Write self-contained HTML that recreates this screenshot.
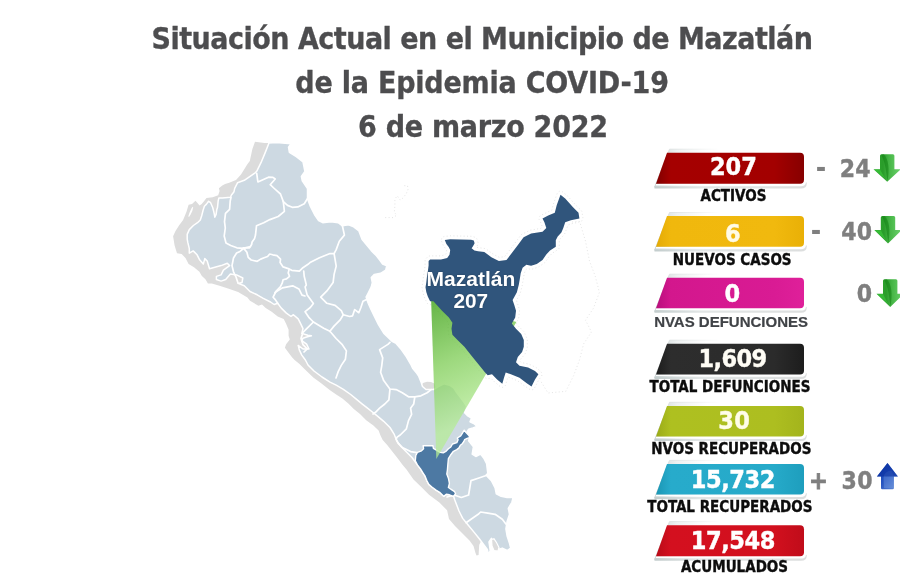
<!DOCTYPE html>
<html><head><meta charset="utf-8"><style>
html,body{margin:0;padding:0;background:#fff;}
body{width:900px;height:581px;position:relative;overflow:hidden;}
</style></head><body>
<svg width="900" height="581" viewBox="0 0 900 581" style="position:absolute;left:0;top:0">
<defs><linearGradient id="tg" gradientUnits="userSpaceOnUse" x1="431" y1="300" x2="482" y2="415"><stop offset="0" stop-color="#2f9a05"/><stop offset="0.5" stop-color="#7acb50"/><stop offset="1" stop-color="#b5ec95"/></linearGradient><linearGradient id="rib" x1="0" y1="0" x2="1" y2="0"><stop offset="0" stop-color="#c9d3d3"/><stop offset="0.15" stop-color="#eef1f1"/><stop offset="0.35" stop-color="#ffffff"/></linearGradient><linearGradient id="ribs" gradientUnits="userSpaceOnUse" x1="654" y1="0" x2="720" y2="0"><stop offset="0" stop-color="#cfd6d6"/><stop offset="1" stop-color="#ffffff"/></linearGradient><linearGradient id="shd" x1="0" y1="0" x2="1" y2="0"><stop offset="0" stop-color="#c3cdcd"/><stop offset="0.3" stop-color="#e2e6e6"/><stop offset="1" stop-color="#dcdede"/></linearGradient><linearGradient id="bg0" x1="0" y1="0" x2="1" y2="0"><stop offset="0" stop-color="#800000"/><stop offset="0.1" stop-color="#a50000"/><stop offset="0.8" stop-color="#a30000"/><stop offset="1" stop-color="#870000"/></linearGradient><linearGradient id="bg1" x1="0" y1="0" x2="1" y2="0"><stop offset="0" stop-color="#e4aa06"/><stop offset="0.1" stop-color="#f0b80d"/><stop offset="0.8" stop-color="#f1b90e"/><stop offset="1" stop-color="#e9b006"/></linearGradient><linearGradient id="bg2" x1="0" y1="0" x2="1" y2="0"><stop offset="0" stop-color="#b80f7c"/><stop offset="0.1" stop-color="#d3178d"/><stop offset="0.8" stop-color="#d91b94"/><stop offset="1" stop-color="#df209a"/></linearGradient><linearGradient id="bg3" x1="0" y1="0" x2="1" y2="0"><stop offset="0" stop-color="#1c1c1c"/><stop offset="0.1" stop-color="#2d2d2d"/><stop offset="0.8" stop-color="#2b2b2b"/><stop offset="1" stop-color="#1d1d1d"/></linearGradient><linearGradient id="bg4" x1="0" y1="0" x2="1" y2="0"><stop offset="0" stop-color="#9aaa18"/><stop offset="0.1" stop-color="#aec020"/><stop offset="0.8" stop-color="#adbe20"/><stop offset="1" stop-color="#a3b41c"/></linearGradient><linearGradient id="bg5" x1="0" y1="0" x2="1" y2="0"><stop offset="0" stop-color="#1b96b4"/><stop offset="0.1" stop-color="#27abcb"/><stop offset="0.8" stop-color="#26aac9"/><stop offset="1" stop-color="#1e9ebd"/></linearGradient><linearGradient id="bg6" x1="0" y1="0" x2="1" y2="0"><stop offset="0" stop-color="#b90b18"/><stop offset="0.1" stop-color="#d4101f"/><stop offset="0.8" stop-color="#d2101e"/><stop offset="1" stop-color="#c00c1a"/></linearGradient><linearGradient id="ga" x1="0" y1="0" x2="1" y2="0"><stop offset="0" stop-color="#2fa82f"/><stop offset="0.35" stop-color="#2a9c2a"/><stop offset="0.55" stop-color="#44b444"/><stop offset="1" stop-color="#6ed46e"/></linearGradient><linearGradient id="gb" x1="0" y1="0" x2="1" y2="1"><stop offset="0" stop-color="#0f3cb0"/><stop offset="0.5" stop-color="#2553c0"/><stop offset="1" stop-color="#6c93da"/></linearGradient></defs>
<polygon points="268.7,142.9 276.5,142.4 291.0,143.8 288.5,147.2 289.4,152.4 296.3,156.7 303.0,161.8 304.9,171.3 301.4,176.5 302.3,180.8 307.5,188.5 307.5,198.8 310.3,206.2 314.5,214.5 318.6,220.7 322.7,222.7 331.0,221.7 338.2,222.7 342.4,225.8 348.6,224.8 353.7,226.9 358.9,231.0 362.0,239.3 366.1,244.4 371.3,250.6 376.4,255.8 379.5,259.9 382.6,264.0 386.8,265.7 385.7,270.2 380.6,273.3 374.4,274.4 371.3,277.5 372.3,282.6 371.3,286.8 368.2,293.0 366.1,297.1 368.2,303.3 370.3,308.0 374.4,316.5 378.6,324.8 383.7,333.1 388.9,338.2 392.0,341.3 396.1,343.4 401.3,349.6 406.4,356.8 410.6,364.0 412.6,368.2 416.8,373.3 418.8,376.4 420.9,381.6 422.5,386.5 426.0,389.5 433.6,389.5 438.4,386.5 443.9,383.8 449.4,385.2 453.6,387.9 456.3,392.0 460.5,397.5 464.6,403.0 466.7,406.5 464.6,412.7 467.3,415.5 471.5,418.2 470.0,421.7 474.2,423.7 477.0,426.5 472.9,427.9 468.7,429.2 467.0,432.0 469.8,437.2 468.6,440.8 473.4,446.9 472.2,454.1 475.8,456.5 480.6,454.1 484.2,458.9 486.6,463.7 487.8,473.4 486.6,475.8 491.4,480.6 495.1,487.8 496.3,493.9 501.1,496.3 507.1,497.5 513.1,497.5 511.9,502.3 508.3,508.3 509.5,514.3 507.1,521.6 505.9,528.8 507.1,536.0 509.5,543.3 510.7,548.1 507.1,550.5 502.3,548.1 498.7,549.3 495.1,544.5 491.4,538.4 489.0,542.0 490.2,550.5 489.0,554.1 488.6,554.5 487.3,549.4 483.4,544.2 480.8,541.5 479.2,545.0 478.6,555.0 476.5,555.5 475.5,553.0 473.5,546.0 469.5,540.5 463.0,534.0 455.0,526.0 449.0,519.0 447.1,510.3 439.4,502.6 429.0,494.8 421.3,487.1 413.5,479.4 406.5,469.5 402.3,464.4 398.2,458.9 392.7,452.0 387.2,445.1 382.7,440.0 380.6,435.8 378.6,430.6 373.4,425.5 366.2,420.3 360.0,414.1 353.8,408.9 348.6,403.8 342.4,398.6 336.2,394.5 330.0,390.3 321.5,383.5 313.3,377.5 305.0,369.5 299.5,364.0 294.6,360.0 292.2,357.5 288.6,352.7 284.9,347.8 286.1,344.2 289.8,339.4 288.6,335.8 288.6,329.8 286.1,323.7 283.7,318.9 277.7,316.5 271.7,311.7 265.7,308.1 262.0,304.5 258.4,305.7 250.0,300.8 247.4,297.5 238.1,291.9 228.8,288.8 219.5,285.7 211.8,283.4 207.9,283.4 205.6,279.5 201.7,275.7 199.4,271.8 194.0,267.2 188.6,264.0 185.5,257.9 181.6,254.0 177.0,253.2 174.6,245.5 173.1,236.2 175.5,231.0 179.0,225.5 183.1,220.0 186.5,211.7 188.6,204.8 192.0,204.1 195.5,200.7 199.6,205.5 201.7,204.1 204.4,200.7 206.5,197.9 212.7,197.2 218.2,195.2 219.6,191.0 218.9,188.3 222.3,185.5 225.1,184.1 229.2,182.8 236.0,180.0 241.0,174.5 247.2,164.4 249.8,161.0 252.4,149.0 255.0,141.7 264.4,142.9" fill="#dcdcdc"/>
<polygon points="193.2,207.2 192.3,211.0 190.6,214.5 189.0,217.0 188.3,216.2 189.6,212.5 191.3,208.8 192.6,206.8" fill="#fff"/>
<polygon points="420.5,386.0 423.0,383.0 427.0,381.8 431.0,382.0 434.5,383.5 436.0,389.8 424.0,390.2 421.0,389.0" fill="#dcdcdc"/>
<polygon points="268.7,142.9 276.5,142.4 291.0,143.8 288.5,147.2 289.4,152.4 296.3,156.7 303.0,161.8 304.9,171.3 301.4,176.5 302.3,180.8 307.5,188.5 307.5,198.8 310.3,206.2 314.5,214.5 318.6,220.7 322.7,222.7 331.0,221.7 338.2,222.7 342.4,225.8 348.6,224.8 353.7,226.9 358.9,231.0 362.0,239.3 366.1,244.4 371.3,250.6 376.4,255.8 379.5,259.9 382.6,264.0 386.8,265.7 385.7,270.2 380.6,273.3 374.4,274.4 371.3,277.5 372.3,282.6 371.3,286.8 368.2,293.0 366.1,297.1 368.2,303.3 370.3,308.0 374.4,316.5 378.6,324.8 383.7,333.1 388.9,338.2 392.0,341.3 396.1,343.4 401.3,349.6 406.4,356.8 410.6,364.0 412.6,368.2 416.8,373.3 418.8,376.4 420.9,381.6 422.5,386.5 426.0,389.5 433.6,389.5 438.4,386.5 443.9,383.8 449.4,385.2 453.6,387.9 456.3,392.0 460.5,397.5 464.6,403.0 466.7,406.5 464.6,412.7 467.3,415.5 471.5,418.2 470.0,421.7 474.2,423.7 477.0,426.5 472.9,427.9 468.7,429.2 467.0,432.0 469.8,437.2 468.6,440.8 473.4,446.9 472.2,454.1 475.8,456.5 480.6,454.1 484.2,458.9 486.6,463.7 487.8,473.4 486.6,475.8 491.4,480.6 495.1,487.8 496.3,493.9 501.1,496.3 507.1,497.5 513.1,497.5 511.9,502.3 508.3,508.3 509.5,514.3 507.1,521.6 505.9,528.8 507.1,536.0 509.5,543.3 510.7,548.1 507.1,550.5 502.3,548.1 498.7,549.3 495.1,544.5 491.4,538.4 489.0,542.0 490.2,550.5 489.0,554.1 488.6,554.5 487.3,549.4 483.4,544.2 479.5,539.0 474.4,532.6 467.9,524.8 462.7,518.4 459.0,511.0 454.8,500.0 453.6,496.3 449.4,494.8 446.3,494.2 443.7,496.3 440.1,492.7 436.0,490.1 431.9,487.0 428.8,484.4 426.7,480.3 425.1,476.2 423.1,473.1 420.5,468.9 417.4,464.8 416.1,463.0 412.0,457.5 406.5,452.0 401.0,446.5 396.8,441.0 394.1,434.1 390.0,427.5 383.7,421.3 377.5,416.2 372.4,412.0 367.2,407.9 362.0,403.8 356.9,399.6 350.7,394.5 343.4,389.3 336.2,385.2 330.0,382.1 322.0,377.0 314.0,371.0 308.0,365.0 305.4,360.0 301.8,355.1 299.4,350.2 298.2,345.4 303.0,349.0 309.0,349.0 306.6,344.2 301.8,340.6 303.0,338.2 306.6,337.0 311.4,335.8 307.8,335.2 301.8,333.4 303.0,328.6 300.6,323.7 298.2,318.9 293.4,314.7 291.0,316.5 286.1,312.9 281.3,308.1 277.7,303.3 274.1,304.5 270.5,302.0 263.3,298.4 257.2,294.8 250.0,291.5 244.3,285.7 238.1,283.4 242.0,282.6 242.8,278.0 236.6,274.9 230.4,274.1 225.7,279.5 221.1,281.1 216.4,279.5 216.4,276.4 221.1,274.9 223.4,270.2 229.6,265.6 227.3,263.3 221.1,265.6 214.9,267.2 209.5,268.7 207.2,261.0 204.8,258.6 203.3,264.1 199.4,259.4 197.1,254.8 193.2,250.9 189.3,253.2 189.3,248.6 187.8,242.4 187.2,239.2 187.2,234.4 189.3,229.6 193.4,225.5 197.5,222.7 200.3,220.0 201.7,215.8 203.1,210.3 204.4,206.2 206.5,204.1 208.6,201.3 210.6,202.7 212.7,207.5 214.1,213.1 214.8,217.2 216.1,214.4 216.8,209.6 217.5,207.5 218.2,200.7 218.9,197.9 222.3,197.9 230.6,197.2 231.3,195.2 234.0,191.7 234.7,188.3 237.5,182.8 244.3,180.3 255.5,172.6 256.7,171.3 261.0,162.7 265.3,152.4 268.7,143.8" fill="#cdd9e2" stroke="#fff" stroke-width="1.5" stroke-linejoin="round"/>
<polygon points="491.5,539.5 494.0,538.8 496.5,542.5 499.0,547.5 498.0,551.0 494.0,550.5 492.0,546.0" fill="#dcdcdc" stroke="#fff" stroke-width="1.2"/>
<polyline points="256.7,173.4 257.9,182.0 264.0,179.2 268.5,177.2 273.0,177.4 275.2,179.0 270.2,184.7 274.3,188.5 280.5,194.0 283.3,201.6 287.5,205.4 292.3,207.3 297.8,206.9 304.3,203.7 307.2,199.0" fill="none" stroke="#fff" stroke-width="1.7" stroke-linejoin="round" stroke-linecap="round"/>
<polyline points="231.0,197.5 230.2,201.0 229.6,209.3 225.5,213.4 224.5,221.7 225.3,228.0 224.2,236.0 226.0,243.0 230.7,245.5 236.9,247.8 243.1,248.3 250.4,246.5" fill="none" stroke="#fff" stroke-width="1.7" stroke-linejoin="round" stroke-linecap="round"/>
<polyline points="283.3,201.6 284.4,211.3 278.2,216.5 269.9,219.6 263.7,222.7 256.5,225.8 255.5,235.0 254.6,238.4 252.1,241.9 251.6,244.5 249.5,247.9 243.4,247.9" fill="none" stroke="#fff" stroke-width="1.7" stroke-linejoin="round" stroke-linecap="round"/>
<polyline points="243.4,247.9 246.9,252.2 248.2,257.4 251.2,260.0 257.2,261.3 260.7,259.1 264.1,257.8 267.6,256.5 269.7,254.0 272.7,254.8 277.0,255.7 280.5,259.1 280.1,262.6 283.1,266.9 288.2,268.6 291.7,270.3 299.4,271.2 302.9,267.7 308.0,264.3 310.0,262.6 319.5,257.8 330.0,253.5 334.1,253.7 336.2,249.6 339.3,241.3 344.4,235.1 342.4,225.8" fill="none" stroke="#fff" stroke-width="1.7" stroke-linejoin="round" stroke-linecap="round"/>
<polyline points="243.4,248.5 240.0,251.4 236.6,253.0 233.5,258.0 232.0,265.6 233.5,271.8 236.0,277.0 238.0,283.0" fill="none" stroke="#fff" stroke-width="1.7" stroke-linejoin="round" stroke-linecap="round"/>
<polyline points="289.1,269.5 288.2,272.9 289.5,276.3 286.5,278.9 283.1,279.8 282.2,283.2 280.3,286.9 276.2,291.0 273.1,297.2 275.3,299.6 277.7,303.3" fill="none" stroke="#fff" stroke-width="1.7" stroke-linejoin="round" stroke-linecap="round"/>
<polyline points="275.0,292.5 282.4,287.9 292.7,285.8 298.9,288.9 302.0,295.1 305.0,296.0" fill="none" stroke="#fff" stroke-width="1.7" stroke-linejoin="round" stroke-linecap="round"/>
<polyline points="303.7,271.0 304.2,276.3 305.5,281.5 306.3,285.0 305.1,286.9 307.2,295.1 310.3,299.3 313.4,303.4 310.3,307.5 305.1,311.7 309.3,317.9 313.4,322.0 317.5,324.5 323.7,328.2 329.9,331.3" fill="none" stroke="#fff" stroke-width="1.7" stroke-linejoin="round" stroke-linecap="round"/>
<polyline points="334.1,253.7 336.2,266.1 334.1,274.4 333.1,282.6 326.9,290.9 320.7,297.1 326.9,303.3 335.1,305.4 341.3,310.6 343.3,314.8 340.2,319.9 334.0,326.1 329.9,331.3" fill="none" stroke="#fff" stroke-width="1.7" stroke-linejoin="round" stroke-linecap="round"/>
<polyline points="343.3,314.8 349.6,316.5 352.6,315.8 354.7,309.6 358.8,312.7 360.9,307.5 363.0,301.3 367.1,299.3 369.5,301.3" fill="none" stroke="#fff" stroke-width="1.7" stroke-linejoin="round" stroke-linecap="round"/>
<polyline points="329.9,331.3 336.1,338.5 342.3,344.7 346.4,350.9 345.4,359.2 341.3,365.4 338.2,371.6 336.0,378.0" fill="none" stroke="#fff" stroke-width="1.7" stroke-linejoin="round" stroke-linecap="round"/>
<polyline points="313.4,322.0 307.2,328.2 303.0,332.3 301.0,338.5 303.0,344.7 307.2,348.8 304.0,352.0" fill="none" stroke="#fff" stroke-width="1.7" stroke-linejoin="round" stroke-linecap="round"/>
<polyline points="390.0,342.4 387.9,344.4 379.6,349.6 382.7,357.9 381.7,366.1 380.6,372.3 383.7,380.6 389.9,389.0 396.1,389.6 402.3,392.7 408.5,396.8 414.7,396.8 420.9,395.8 427.1,392.7 431.2,389.6" fill="none" stroke="#fff" stroke-width="1.7" stroke-linejoin="round" stroke-linecap="round"/>
<polyline points="389.9,389.6 388.9,399.9 384.8,404.0 379.6,408.2 375.5,412.3 373.0,414.0" fill="none" stroke="#fff" stroke-width="1.7" stroke-linejoin="round" stroke-linecap="round"/>
<polyline points="414.7,397.5 413.7,404.0 410.6,408.2 411.6,414.4 408.5,420.6 406.4,428.8 400.2,435.0 397.1,437.1 396.1,439.2 398.2,443.3 402.3,447.4 410.6,451.6 416.8,452.6" fill="none" stroke="#fff" stroke-width="1.7" stroke-linejoin="round" stroke-linecap="round"/>
<polyline points="447.0,497.0 454.1,495.0 461.3,497.5 468.6,495.0 469.8,487.8 471.0,480.6 478.2,478.2 485.4,475.8 487.5,474.0" fill="none" stroke="#fff" stroke-width="1.7" stroke-linejoin="round" stroke-linecap="round"/>
<polyline points="466.1,522.8 471.0,519.2 478.2,514.3 480.6,512.0 487.8,513.1 495.1,514.3 502.3,519.2 505.9,524.0" fill="none" stroke="#fff" stroke-width="1.7" stroke-linejoin="round" stroke-linecap="round"/>
<polygon points="423.1,445.7 432.9,445.7 433.4,448.3 436.0,449.8 440.1,452.4 443.2,452.9 445.8,451.4 448.4,448.8 450.8,447.0 452.5,444.0 456.8,442.7 458.1,439.7 457.3,438.0 460.7,435.8 462.9,432.4 464.2,430.2 466.3,432.8 468.9,435.4 469.8,437.5 467.2,438.4 464.6,439.7 463.7,441.8 462.0,444.0 460.3,445.3 459.0,447.9 456.8,449.6 453.4,451.3 450.8,454.7 448.4,458.6 447.9,463.8 447.4,470.0 446.8,474.1 448.4,478.2 449.4,483.4 448.4,487.5 451.5,489.6 454.6,491.7 455.6,493.7 453.6,496.3 449.4,494.8 446.3,494.2 443.7,496.3 440.1,492.7 436.0,490.1 431.9,487.0 428.8,484.4 426.7,480.3 425.1,476.2 423.1,473.1 420.5,468.9 417.4,464.8 415.3,460.7 415.8,455.5 417.4,452.4 421.5,450.8 423.6,448.8" fill="#4d79a3" stroke="#fff" stroke-width="1.4" stroke-linejoin="round"/>
<polygon points="441.6,241.3 443.2,245.2 443.3,245.5 443.4,245.7 443.6,246.0 445.7,248.8 446.6,250.7 446.2,253.4 445.1,254.8 440.6,255.9 430.1,255.9 429.7,255.9 429.4,256.0 429.0,256.1 428.7,256.2 428.4,256.3 428.1,256.5 427.8,256.8 427.5,257.0 426.0,258.6 425.8,258.9 425.6,259.1 425.5,259.4 425.3,259.7 425.2,260.0 425.2,260.3 425.1,260.7 425.1,261.0 425.1,265.4 424.3,271.3 423.6,275.8 423.5,276.0 422.8,282.1 422.0,286.7 422.0,287.1 422.0,287.5 422.1,287.9 422.9,292.5 423.0,293.0 424.5,297.7 424.6,297.9 424.7,298.2 427.0,302.8 427.1,303.1 427.3,303.4 427.6,303.6 427.8,303.9 428.1,304.1 428.4,304.3 428.7,304.4 429.1,304.5 429.4,304.6 429.7,304.7 430.1,304.7 431.8,304.7 439.4,313.0 439.5,313.2 446.2,319.7 448.7,323.5 448.0,328.2 448.0,328.5 448.0,328.9 448.0,329.2 448.9,335.2 449.0,335.6 449.1,335.9 449.3,336.3 449.4,336.6 449.7,336.9 449.9,337.2 455.0,342.4 455.0,342.4 461.8,349.1 468.6,357.6 475.5,366.2 482.4,374.8 482.6,375.1 485.2,377.7 485.5,377.9 485.8,378.1 486.1,378.3 486.4,378.4 486.7,378.6 487.0,378.6 487.4,378.7 487.7,378.7 488.1,378.7 488.4,378.6 490.8,378.1 494.6,382.0 494.9,382.2 500.1,386.5 500.3,386.7 500.6,386.9 501.0,387.0 501.3,387.2 501.6,387.2 502.0,387.3 502.3,387.3 502.7,387.3 503.0,387.2 503.3,387.1 503.7,387.0 504.0,386.9 504.3,386.7 504.6,386.5 504.8,386.2 505.0,386.0 505.2,385.7 505.4,385.4 505.6,385.1 505.7,384.8 507.3,378.8 507.9,377.0 509.7,377.6 517.8,380.9 524.3,385.8 524.5,385.9 529.6,389.3 529.9,389.5 530.2,389.6 530.5,389.8 530.8,389.8 531.2,389.9 531.5,389.9 531.9,389.9 532.2,389.8 532.6,389.7 532.9,389.6 533.2,389.5 533.5,389.3 533.8,389.1 534.0,388.8 534.2,388.6 534.4,388.3 534.6,388.0 538.0,381.3 541.3,376.2 541.5,375.9 541.6,375.6 541.8,375.3 541.8,375.0 541.9,374.6 541.9,374.3 541.9,373.9 541.8,373.6 541.7,373.3 541.6,373.0 541.5,372.6 541.3,372.4 541.1,372.1 540.9,371.8 537.5,368.4 537.2,368.2 536.9,367.9 536.5,367.8 529.6,364.4 529.4,364.2 529.1,364.1 528.8,364.1 521.2,362.5 520.0,361.3 520.9,358.9 524.8,354.3 525.0,354.0 525.2,353.7 525.3,353.4 525.4,353.1 527.1,347.9 527.2,347.5 527.3,347.2 527.3,346.8 527.3,339.9 527.3,339.5 527.2,339.2 527.1,338.8 527.0,338.5 524.4,332.5 524.3,332.2 524.1,331.9 523.9,331.7 523.7,331.4 518.6,326.3 516.0,323.2 518.3,319.2 518.4,318.9 518.5,318.6 518.6,318.2 518.7,317.9 519.5,311.1 519.5,310.8 519.5,310.4 519.4,310.0 519.4,309.7 517.7,304.0 517.6,303.9 516.4,300.4 517.3,298.7 517.4,298.7 520.0,294.0 520.1,293.7 520.2,293.4 520.3,293.1 522.2,285.5 522.2,285.3 523.2,279.6 523.3,279.5 524.1,274.1 525.6,269.8 527.2,268.6 530.4,269.2 530.7,269.3 531.1,269.3 531.5,269.3 531.8,269.2 532.2,269.1 537.9,267.2 538.2,267.1 538.5,267.0 538.8,266.8 544.5,262.9 544.7,262.7 545.0,262.5 545.2,262.2 545.4,262.0 549.0,256.6 552.2,253.3 557.7,249.7 558.0,249.5 558.3,249.3 558.5,249.0 558.7,248.8 558.9,248.5 559.0,248.2 559.1,247.8 559.2,247.5 559.3,247.1 559.3,246.8 559.3,241.0 560.6,238.5 563.9,235.0 564.1,234.8 564.3,234.5 564.5,234.2 564.6,233.9 566.5,229.2 566.6,229.0 568.0,225.0 571.8,223.7 580.2,221.8 580.5,221.7 580.8,221.6 581.1,221.4 581.4,221.2 581.7,221.0 582.0,220.8 582.2,220.5 582.4,220.2 582.6,219.9 582.7,219.6 582.8,219.3 582.9,218.9 582.9,218.6 582.9,218.2 582.9,217.9 582.0,212.2 581.9,211.8 581.8,211.4 581.6,211.1 581.4,210.8 581.2,210.5 581.0,210.2 575.3,204.6 567.8,196.2 567.6,196.0 567.4,195.8 562.7,192.0 562.4,191.8 562.1,191.6 561.8,191.4 561.5,191.3 561.1,191.3 560.8,191.2 560.4,191.2 560.1,191.2 559.7,191.3 559.4,191.4 559.1,191.5 558.8,191.7 558.5,191.9 558.2,192.1 557.9,192.3 557.7,192.6 557.5,192.9 557.3,193.2 557.2,193.5 553.4,204.0 553.3,204.3 551.8,210.2 546.8,212.4 546.7,212.5 541.0,215.3 540.7,215.4 540.4,215.6 540.1,215.8 539.9,216.1 539.7,216.4 539.5,216.7 539.3,217.0 539.2,217.3 539.1,217.6 539.0,218.0 539.0,218.3 539.0,218.6 539.0,219.0 539.1,219.3 539.2,219.6 539.4,220.0 541.2,223.5 542.3,227.0 540.8,228.4 530.5,230.1 530.2,230.2 529.9,230.3 529.6,230.5 522.1,234.2 521.8,234.3 521.5,234.5 521.2,234.7 521.0,235.0 520.8,235.2 515.1,242.9 509.4,250.4 504.6,256.7 499.5,257.4 493.2,254.2 486.4,249.2 486.1,249.0 485.8,248.8 485.4,248.7 485.1,248.6 484.7,248.5 478.7,247.7 476.4,247.3 477.7,244.8 477.8,244.5 478.0,244.2 478.0,243.9 478.1,243.5 478.1,243.2 478.1,242.8 478.0,242.5 477.9,242.2 477.1,239.6 477.0,239.2 476.9,238.9 476.7,238.6 476.5,238.4 476.3,238.1 476.0,237.9 475.7,237.7 475.4,237.5 475.1,237.4 474.8,237.2 472.1,236.4 471.8,236.4 471.5,236.3 471.2,236.3 461.2,236.1 450.3,235.8 450.0,235.8 449.8,235.8 444.4,236.5 444.0,236.6 443.7,236.7 443.4,236.8 443.1,237.0 442.8,237.1 442.5,237.3 442.3,237.6 442.1,237.8 441.9,238.1 441.7,238.4 441.6,238.7 441.4,239.0 441.4,239.3 441.3,239.7 441.3,240.0 441.3,240.4 441.4,240.7 441.4,241.0 441.6,241.3" fill="none" stroke="#d0d0d0" stroke-width="0.9" stroke-dasharray="1 2.4" opacity="0.65"/>
<polyline points="572.0,222.0 579.6,221.4 585.5,241.1 589.5,260.9 595.4,276.7 599.4,292.5 593.4,308.3 585.5,320.2 591.5,332.0 583.6,343.9 579.6,359.7 573.7,375.5 565.8,391.3 548.0,393.0 540.0,380.0" fill="none" stroke="#d0d0d0" stroke-width="0.9" stroke-dasharray="1 2.4" opacity="0.65"/>
<polyline points="385.2,217.6 393.1,217.6 396.7,215.2 394.3,212.2 394.9,206.1 394.9,198.9 397.3,195.9 400.3,200.1 403.3,197.7 406.3,193.5 408.1,189.3 407.5,185.7 403.3,185.7" fill="none" stroke="#d0d0d0" stroke-width="0.9" stroke-dasharray="1 2.4" opacity="0.65"/>
<polygon points="431.0,296.0 516.4,322.0 436.3,459.0" fill="url(#tg)" opacity="0.74"/>
<polygon points="444.8,240.0 450.2,239.3 461.1,239.6 471.1,239.8 473.8,240.6 474.6,243.2 473.0,246.2 471.6,248.2 474.4,250.4 478.1,251.2 484.3,252.0 491.4,257.2 498.9,261.0 506.5,260.0 512.2,252.5 517.9,245.0 523.6,237.3 531.1,233.6 542.5,231.7 546.3,227.9 544.4,222.2 542.5,218.4 548.2,215.6 554.8,212.7 556.7,205.2 560.5,194.7 565.2,198.5 572.8,207.0 578.5,212.7 579.4,218.4 570.9,220.3 565.2,222.2 563.3,227.9 561.4,232.6 557.7,236.4 555.8,240.2 555.8,246.8 550.0,250.6 546.3,254.4 542.5,260.0 536.8,263.9 531.1,265.8 526.4,264.8 522.6,267.7 520.7,273.3 519.8,279.0 518.8,284.7 516.9,292.3 514.3,297.0 512.6,300.0 514.3,305.0 516.0,310.7 515.2,317.5 511.8,323.6 516.0,328.7 521.2,333.9 523.8,339.9 523.8,346.8 522.1,352.0 517.8,357.1 516.0,362.3 519.5,365.7 528.1,367.5 535.0,370.9 538.4,374.3 535.0,379.5 531.5,386.4 526.4,383.0 519.5,377.8 510.9,374.3 505.7,372.6 504.0,377.8 502.3,383.8 497.1,379.5 492.0,374.3 487.7,375.2 485.1,372.6 478.2,364.0 471.3,355.4 464.4,346.8 457.5,339.9 452.4,334.7 451.5,328.7 452.4,322.7 448.9,317.5 442.0,310.7 433.4,301.2 430.1,301.2 427.8,296.6 426.3,291.9 425.5,287.3 426.3,282.6 427.0,276.4 427.8,271.8 428.6,265.6 428.6,261.0 430.1,259.4 441.0,259.4 447.2,257.9 449.5,254.8 450.2,250.1 448.7,247.0 446.4,243.9" fill="#30557c"/>
<path d="M669.5,149.2 L804,149.2 L804,186.8 L654.5,186.8 Z" fill="url(#rib)"/><path d="M720,149.2 L669.5,149.2 L654.5,187.4" fill="none" stroke="url(#ribs)" stroke-width="0.9"/><path d="M654.5,186.2 L801,186.2 Q805.5,186.2 806,182.3 L806.8,182.8 Q807,188.4 801,188.4 L654.5,188.4 Z" fill="url(#shd)"/><path d="M656,184.7 L803,184.7" stroke="#fff" stroke-width="1.6"/><path d="M667,152.8 L800,152.8 Q804,152.8 804,156.8 L804,179.8 Q804,183.8 800,183.8 L656,183.8 Z" fill="url(#bg0)"/><path d="M669.5,212.5 L804,212.5 L804,249.8 L654.5,249.8 Z" fill="url(#rib)"/><path d="M720,212.5 L669.5,212.5 L654.5,250.4" fill="none" stroke="url(#ribs)" stroke-width="0.9"/><path d="M654.5,249.2 L801,249.2 Q805.5,249.2 806,245.3 L806.8,245.8 Q807,251.4 801,251.4 L654.5,251.4 Z" fill="url(#shd)"/><path d="M656,247.7 L803,247.7" stroke="#fff" stroke-width="1.6"/><path d="M667,216.1 L800,216.1 Q804,216.1 804,220.1 L804,242.8 Q804,246.8 800,246.8 L656,246.8 Z" fill="url(#bg1)"/><path d="M669.5,274.2 L804,274.2 L804,311.2 L654.5,311.2 Z" fill="url(#rib)"/><path d="M720,274.2 L669.5,274.2 L654.5,311.8" fill="none" stroke="url(#ribs)" stroke-width="0.9"/><path d="M654.5,310.6 L801,310.6 Q805.5,310.6 806,306.7 L806.8,307.2 Q807,312.8 801,312.8 L654.5,312.8 Z" fill="url(#shd)"/><path d="M656,309.1 L803,309.1" stroke="#fff" stroke-width="1.6"/><path d="M667,277.8 L800,277.8 Q804,277.8 804,281.8 L804,304.2 Q804,308.2 800,308.2 L656,308.2 Z" fill="url(#bg2)"/><path d="M669.5,340.2 L804,340.2 L804,377.4 L654.5,377.4 Z" fill="url(#rib)"/><path d="M720,340.2 L669.5,340.2 L654.5,378.0" fill="none" stroke="url(#ribs)" stroke-width="0.9"/><path d="M654.5,376.8 L801,376.8 Q805.5,376.8 806,372.9 L806.8,373.4 Q807,379.0 801,379.0 L654.5,379.0 Z" fill="url(#shd)"/><path d="M656,375.3 L803,375.3" stroke="#fff" stroke-width="1.6"/><path d="M667,343.8 L800,343.8 Q804,343.8 804,347.8 L804,370.4 Q804,374.4 800,374.4 L656,374.4 Z" fill="url(#bg3)"/><path d="M669.5,402.3 L804,402.3 L804,439.5 L654.5,439.5 Z" fill="url(#rib)"/><path d="M720,402.3 L669.5,402.3 L654.5,440.1" fill="none" stroke="url(#ribs)" stroke-width="0.9"/><path d="M654.5,438.9 L801,438.9 Q805.5,438.9 806,435.0 L806.8,435.5 Q807,441.1 801,441.1 L654.5,441.1 Z" fill="url(#shd)"/><path d="M656,437.4 L803,437.4" stroke="#fff" stroke-width="1.6"/><path d="M667,405.9 L800,405.9 Q804,405.9 804,409.9 L804,432.5 Q804,436.5 800,436.5 L656,436.5 Z" fill="url(#bg4)"/><path d="M669.5,460.4 L804,460.4 L804,497.6 L654.5,497.6 Z" fill="url(#rib)"/><path d="M720,460.4 L669.5,460.4 L654.5,498.2" fill="none" stroke="url(#ribs)" stroke-width="0.9"/><path d="M654.5,497.0 L801,497.0 Q805.5,497.0 806,493.1 L806.8,493.6 Q807,499.2 801,499.2 L654.5,499.2 Z" fill="url(#shd)"/><path d="M656,495.5 L803,495.5" stroke="#fff" stroke-width="1.6"/><path d="M667,464.0 L800,464.0 Q804,464.0 804,468.0 L804,490.6 Q804,494.6 800,494.6 L656,494.6 Z" fill="url(#bg5)"/><path d="M669.5,521.6 L804,521.6 L804,559.2 L654.5,559.2 Z" fill="url(#rib)"/><path d="M720,521.6 L669.5,521.6 L654.5,559.8" fill="none" stroke="url(#ribs)" stroke-width="0.9"/><path d="M654.5,558.6 L801,558.6 Q805.5,558.6 806,554.7 L806.8,555.2 Q807,560.8 801,560.8 L654.5,560.8 Z" fill="url(#shd)"/><path d="M656,557.1 L803,557.1" stroke="#fff" stroke-width="1.6"/><path d="M667,525.2 L800,525.2 Q804,525.2 804,529.2 L804,552.2 Q804,556.2 800,556.2 L656,556.2 Z" fill="url(#bg6)"/>
<path d="M880.0,155.8 Q880.0,154.3 881.5,154.3 L892.9000000000001,154.3 Q894.4000000000001,154.3 894.4000000000001,155.8 L894.4000000000001,169.3 L900.9000000000001,169.3 L887.2,181.8 L873.5,169.3 L880.0,169.3 Z" fill="url(#ga)"/><path d="M883.7,154.3 C888.7,159.3 889.7,169.3 887.5,181.3 C886.0,171.3 885.7,163.3 881.2,154.8 Z" fill="#138214" opacity="0.55"/><path d="M874.0,169.60000000000002 L880.0,169.60000000000002 L885.2,178.8 Z" fill="#3fd03f" opacity="0.55"/><path d="M880.8,217.5 Q880.8,216 882.3,216 L893.7,216 Q895.2,216 895.2,217.5 L895.2,230 L901.7,230 L888,243.5 L874.3,230 L880.8,230 Z" fill="url(#ga)"/><path d="M884.5,216 C889.5,221 890.5,230 888.3,243.0 C886.8,232 886.5,225 882,216.5 Z" fill="#138214" opacity="0.55"/><path d="M874.8,230.3 L880.8,230.3 L886,240.5 Z" fill="#3fd03f" opacity="0.55"/><path d="M883.0,280.8 Q883.0,279.3 884.5,279.3 L895.9000000000001,279.3 Q897.4000000000001,279.3 897.4000000000001,280.8 L897.4000000000001,293.8 L903.9000000000001,293.8 L890.2,307 L876.5,293.8 L883.0,293.8 Z" fill="url(#ga)"/><path d="M886.7,279.3 C891.7,284.3 892.7,293.8 890.5,306.5 C889.0,295.8 888.7,288.3 884.2,279.8 Z" fill="#138214" opacity="0.55"/><path d="M877.0,294.1 L883.0,294.1 L888.2,304 Z" fill="#3fd03f" opacity="0.55"/><path d="M887.5,463 L897.9,476.6 L893.9,476.6 L893.9,488 Q893.9,489.3 892.6,489.3 L882.3,489.3 Q881,489.3 881,488 L881,476.6 L876.9,476.6 Z" fill="url(#gb)"/><path d="M883.5,478 Q884,471 891.5,470.5 L893.9,476.6 L893.9,488 L884,488 Z" fill="#7ea3e3" opacity="0.35"/><path d="M887.5,463 L897.9,476.6 L876.9,476.6 Z" fill="#0a2f9c" opacity="0.6"/>
</svg>
<div style="position:absolute;left:82.00px;top:23.90px;width:800px;text-align:center;font-family:'DejaVu Sans Condensed','DejaVu Sans',sans-serif;font-weight:bold;font-size:30px;line-height:30px;letter-spacing:-0.5px;color:#4d4d4f;white-space:nowrap;-webkit-text-stroke:0.3px #4d4d4f;">Situación Actual en el Municipio de Mazatlán</div><div style="position:absolute;left:82.00px;top:67.70px;width:800px;text-align:center;font-family:'DejaVu Sans Condensed','DejaVu Sans',sans-serif;font-weight:bold;font-size:30px;line-height:30px;letter-spacing:-0.2px;color:#4d4d4f;white-space:nowrap;-webkit-text-stroke:0.3px #4d4d4f;">de la Epidemia COVID-19</div><div style="position:absolute;left:82.90px;top:112.10px;width:800px;text-align:center;font-family:'DejaVu Sans Condensed','DejaVu Sans',sans-serif;font-weight:bold;font-size:30px;line-height:30px;letter-spacing:-0.27px;color:#4d4d4f;white-space:nowrap;-webkit-text-stroke:0.3px #4d4d4f;">6 de marzo 2022</div><div style="position:absolute;left:658.40px;top:154.10px;width:150px;text-align:center;font-family:'DejaVu Sans Condensed','DejaVu Sans',sans-serif;font-weight:bold;font-size:25px;line-height:25px;letter-spacing:0px;color:#ffffff;white-space:nowrap;-webkit-text-stroke:0.4px #ffffff;">207</div><div style="position:absolute;left:623.45px;top:189.20px;width:220px;text-align:center;font-family:'DejaVu Sans Condensed','DejaVu Sans',sans-serif;font-weight:bold;font-size:15px;line-height:15px;letter-spacing:0px;color:#0d0d0d;white-space:nowrap;-webkit-text-stroke:0.35px #0d0d0d;">ACTIVOS</div><div style="position:absolute;left:657.80px;top:221.10px;width:150px;text-align:center;font-family:'DejaVu Sans Condensed','DejaVu Sans',sans-serif;font-weight:bold;font-size:25px;line-height:25px;letter-spacing:0px;color:#fffbe6;white-space:nowrap;-webkit-text-stroke:0.4px #fffbe6;">6</div><div style="position:absolute;left:622.20px;top:252.60px;width:220px;text-align:center;font-family:'DejaVu Sans Condensed','DejaVu Sans',sans-serif;font-weight:bold;font-size:15px;line-height:15px;letter-spacing:0px;color:#0d0d0d;white-space:nowrap;-webkit-text-stroke:0.35px #0d0d0d;">NUEVOS CASOS</div><div style="position:absolute;left:657.40px;top:281.10px;width:150px;text-align:center;font-family:'DejaVu Sans Condensed','DejaVu Sans',sans-serif;font-weight:bold;font-size:25px;line-height:25px;letter-spacing:0px;color:#ffffff;white-space:nowrap;-webkit-text-stroke:0.4px #ffffff;">0</div><div style="position:absolute;left:621.10px;top:313.60px;width:220px;text-align:center;font-family:'Liberation Sans',Arial,sans-serif;font-weight:bold;font-size:15px;line-height:15px;letter-spacing:0px;color:#404347;white-space:nowrap;-webkit-text-stroke:0.2px #404347;">NVAS DEFUNCIONES</div><div style="position:absolute;left:657.50px;top:345.70px;width:150px;text-align:center;font-family:'DejaVu Sans Condensed','DejaVu Sans',sans-serif;font-weight:bold;font-size:25px;line-height:25px;letter-spacing:-0.6px;color:#fffdf5;white-space:nowrap;-webkit-text-stroke:0.4px #fffdf5;">1,609</div><div style="position:absolute;left:620.00px;top:379.80px;width:220px;text-align:center;font-family:'DejaVu Sans Condensed','DejaVu Sans',sans-serif;font-weight:bold;font-size:15px;line-height:15px;letter-spacing:0px;color:#0d0d0d;white-space:nowrap;-webkit-text-stroke:0.35px #0d0d0d;">TOTAL DEFUNCIONES</div><div style="position:absolute;left:659.30px;top:407.70px;width:150px;text-align:center;font-family:'DejaVu Sans Condensed','DejaVu Sans',sans-serif;font-weight:bold;font-size:25px;line-height:25px;letter-spacing:0.5px;color:#fffde8;white-space:nowrap;-webkit-text-stroke:0.4px #fffde8;">30</div><div style="position:absolute;left:621.30px;top:441.80px;width:220px;text-align:center;font-family:'DejaVu Sans Condensed','DejaVu Sans',sans-serif;font-weight:bold;font-size:15px;line-height:15px;letter-spacing:0px;color:#0d0d0d;white-space:nowrap;-webkit-text-stroke:0.35px #0d0d0d;">NVOS RECUPERADOS</div><div style="position:absolute;left:657.90px;top:466.60px;width:150px;text-align:center;font-family:'DejaVu Sans Condensed','DejaVu Sans',sans-serif;font-weight:bold;font-size:25px;line-height:25px;letter-spacing:-0.4px;color:#ffffff;white-space:nowrap;-webkit-text-stroke:0.4px #ffffff;">15,732</div><div style="position:absolute;left:619.85px;top:499.90px;width:220px;text-align:center;font-family:'DejaVu Sans Condensed','DejaVu Sans',sans-serif;font-weight:bold;font-size:15px;line-height:15px;letter-spacing:0px;color:#0d0d0d;white-space:nowrap;-webkit-text-stroke:0.35px #0d0d0d;">TOTAL RECUPERADOS</div><div style="position:absolute;left:657.90px;top:528.40px;width:150px;text-align:center;font-family:'DejaVu Sans Condensed','DejaVu Sans',sans-serif;font-weight:bold;font-size:25px;line-height:25px;letter-spacing:-0.4px;color:#ffffff;white-space:nowrap;-webkit-text-stroke:0.4px #ffffff;">17,548</div><div style="position:absolute;left:624.50px;top:559.90px;width:220px;text-align:center;font-family:'DejaVu Sans Condensed','DejaVu Sans',sans-serif;font-weight:bold;font-size:15px;line-height:15px;letter-spacing:0px;color:#0d0d0d;white-space:nowrap;-webkit-text-stroke:0.35px #0d0d0d;">ACUMULADOS</div><div style="position:absolute;left:806.00px;top:153.80px;width:30px;text-align:center;font-family:'DejaVu Sans Condensed','DejaVu Sans',sans-serif;font-weight:bold;font-size:28px;line-height:28px;letter-spacing:0px;color:#7f7f7f;white-space:nowrap;">-</div><div style="position:absolute;left:801.00px;top:217.00px;width:30px;text-align:center;font-family:'DejaVu Sans Condensed','DejaVu Sans',sans-serif;font-weight:bold;font-size:28px;line-height:28px;letter-spacing:0px;color:#7f7f7f;white-space:nowrap;">-</div><div style="position:absolute;left:803.50px;top:468.00px;width:30px;text-align:center;font-family:'DejaVu Sans Condensed','DejaVu Sans',sans-serif;font-weight:bold;font-size:25px;line-height:25px;letter-spacing:0px;color:#7f7f7f;white-space:nowrap;-webkit-text-stroke:0.8px #7f7f7f;">+</div><div style="position:absolute;right:29.00px;top:156.70px;font-family:'DejaVu Sans Condensed','DejaVu Sans',sans-serif;font-weight:bold;font-size:24.5px;line-height:24.5px;letter-spacing:0.3px;color:#7f7f7f;white-space:nowrap;-webkit-text-stroke:0.4px #7f7f7f">24</div><div style="position:absolute;right:27.50px;top:220.40px;font-family:'DejaVu Sans Condensed','DejaVu Sans',sans-serif;font-weight:bold;font-size:24.5px;line-height:24.5px;letter-spacing:0.3px;color:#7f7f7f;white-space:nowrap;-webkit-text-stroke:0.4px #7f7f7f">40</div><div style="position:absolute;right:27.50px;top:281.70px;font-family:'DejaVu Sans Condensed','DejaVu Sans',sans-serif;font-weight:bold;font-size:24.5px;line-height:24.5px;letter-spacing:0.3px;color:#7f7f7f;white-space:nowrap;-webkit-text-stroke:0.4px #7f7f7f">0</div><div style="position:absolute;right:27.20px;top:469.40px;font-family:'DejaVu Sans Condensed','DejaVu Sans',sans-serif;font-weight:bold;font-size:24.5px;line-height:24.5px;letter-spacing:0.3px;color:#7f7f7f;white-space:nowrap;-webkit-text-stroke:0.4px #7f7f7f">30</div><div style="position:absolute;left:400.90px;top:267.50px;width:140px;text-align:center;font-family:'Liberation Sans',Arial,sans-serif;font-weight:bold;font-size:21px;line-height:21px;letter-spacing:0px;color:#fff;white-space:nowrap;text-shadow:0 0 2px rgba(0,0,0,0.3)">Mazatlán</div><div style="position:absolute;left:400.80px;top:290.60px;width:140px;text-align:center;font-family:'Liberation Sans',Arial,sans-serif;font-weight:bold;font-size:20.8px;line-height:20.5px;letter-spacing:0px;color:#fff;white-space:nowrap;text-shadow:0 0 2px rgba(0,0,0,0.3)">207</div>
</body></html>
